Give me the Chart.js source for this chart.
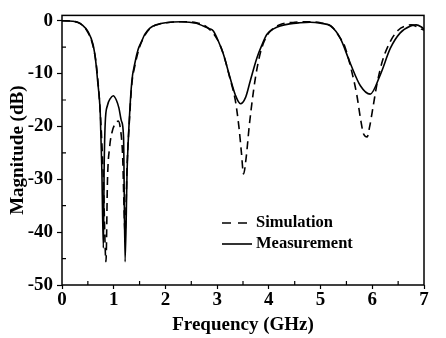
<!DOCTYPE html>
<html>
<head>
<meta charset="utf-8">
<style>
html,body{margin:0;padding:0;background:#fff;}
#wrap{width:446px;height:338px;}
</style>
<script src="https://cdn.jsdelivr.net/npm/chart.js@4.4.0/dist/chart.umd.min.js"></script>
</head>
<body>
<div id="wrap"><canvas id="c" width="446" height="338"></canvas></div>
<script>
// Frequency (GHz) and magnitude (dB)
const simFreq = [0,0.3,0.5,0.6,0.66,0.7,0.75,0.8,0.85,0.88,0.92,0.97,1.03,1.09,1.13,1.17,1.22,1.26,1.3,1.35,1.41,1.5,1.6,1.7,1.85,2.0,2.3,2.6,2.8,3.0,3.12,3.25,3.35,3.42,3.47,3.51,3.56,3.62,3.68,3.74,3.83,3.91,4.0,4.2,4.5,4.8,5.0,5.2,5.38,5.48,5.6,5.7,5.78,5.83,5.9,5.95,6.02,6.09,6.2,6.35,6.5,6.64,6.75,6.85,6.95,7.0];
const simDb   = [0,-0.3,-2.2,-4.8,-8,-12,-19,-30,-45.6,-30,-24,-21,-19.5,-19,-20.5,-25,-40,-27,-19.5,-12,-8.5,-5,-2.8,-1.5,-0.7,-0.4,-0.2,-0.4,-1.2,-3.5,-6.3,-11,-15,-20,-25,-29,-26,-20,-15,-10.8,-6.3,-3.9,-2.3,-0.8,-0.3,-0.2,-0.4,-1,-3.3,-5.2,-9.5,-14,-19,-21.4,-22,-20,-16,-12,-7.5,-3.9,-1.8,-1,-0.8,-1.1,-1.6,-1.8];
const measFreq = [0,0.2,0.3,0.4,0.5,0.6,0.65,0.69,0.74,0.77,0.8,0.815,0.835,0.88,0.93,0.99,1.05,1.1,1.15,1.19,1.22,1.26,1.3,1.35,1.41,1.47,1.54,1.6,1.7,1.85,2.0,2.3,2.6,2.73,2.85,2.93,3.02,3.12,3.25,3.35,3.45,3.55,3.64,3.77,3.87,3.96,4.1,4.22,4.4,4.6,4.8,5.0,5.19,5.38,5.58,5.77,5.96,6.16,6.35,6.54,6.74,6.85,6.95,7.0];
const measDb   = [0,-0.1,-0.3,-0.9,-2.0,-4.5,-7.5,-11.5,-17.6,-28,-43,-28,-19.5,-16,-14.8,-14.2,-15,-16.5,-19,-22,-45.6,-28,-19,-11.5,-8,-5.5,-3.9,-2.6,-1.4,-0.7,-0.4,-0.2,-0.5,-1,-1.5,-2,-3.8,-6.3,-10.8,-14,-15.7,-14.5,-11.4,-7,-4.5,-2.6,-1.5,-1,-0.6,-0.4,-0.3,-0.5,-1,-3.3,-8.2,-12.3,-13.9,-10.1,-5.2,-2.3,-1,-0.8,-1.2,-1.6];
const seriesNames = ['Simulation','Measurement'];
const xTicks = [0,1,2,3,4,5,6,7];
const yTicks = [0,-10,-20,-30,-40,-50];
const xTickLabels = ['0','1','2','3','4','5','6','7'];
const yTickLabels = ['0','-10','-20','-30','-40','-50'];
const xTitle = 'Frequency (GHz)';
const yTitle = 'Magnitude (dB)';

const toPts = (xs, ys) => xs.map((x, i) => ({x: x, y: ys[i]}));
const FONT = 'Liberation Serif, Times New Roman, serif';

const decor = {
  id: 'decor',
  afterDatasetsDraw(chart) {
    const ctx = chart.ctx, a = chart.chartArea;
    const xs = chart.scales.x, ys = chart.scales.y;
    ctx.save();
    ctx.strokeStyle = '#000';
    ctx.lineWidth = 1.5;
    ctx.strokeRect(a.left, a.top, a.right - a.left, a.bottom - a.top);
    // minor ticks inside
    ctx.lineWidth = 1.2;
    ctx.beginPath();
    for (let v = 0.5; v < 7; v += 1) {
      const px = xs.getPixelForValue(v);
      ctx.moveTo(px, a.bottom); ctx.lineTo(px, a.bottom - 4);
    }
    for (let v = -45; v < 0; v += 10) {
      const py = ys.getPixelForValue(v);
      ctx.moveTo(a.left, py); ctx.lineTo(a.left + 4, py);
    }
    ctx.stroke();
    // legend
    const ds = chart.data.datasets;
    const rows = [{y: 223, dash: [9, 7]}, {y: 244, dash: []}];
    ctx.font = 'bold 16.5px ' + FONT;
    ctx.textBaseline = 'middle';
    ctx.fillStyle = '#000';
    ds.forEach((d, i) => {
      ctx.beginPath();
      ctx.lineWidth = 1.6;
      ctx.setLineDash(rows[i].dash);
      ctx.moveTo(222, rows[i].y); ctx.lineTo(252, rows[i].y);
      ctx.stroke();
      ctx.setLineDash([]);
      ctx.fillText(d.label, 256, rows[i].y);
    });
    ctx.restore();
  }
};

new Chart(document.getElementById('c'), {
  type: 'line',
  data: {
    datasets: [
      {label: seriesNames[0], data: toPts(simFreq, simDb), borderColor: '#000', borderWidth: 1.6, borderDash: [8, 5], pointRadius: 0, fill: false, tension: 0.4, cubicInterpolationMode: 'monotone'},
      {label: seriesNames[1], data: toPts(measFreq, measDb), borderColor: '#000', borderWidth: 1.6, pointRadius: 0, fill: false, tension: 0.4, cubicInterpolationMode: 'monotone'}
    ]
  },
  options: {
    responsive: false,
    animation: false,
    devicePixelRatio: 1,
    layout: {padding: {top: 14, right: 22, left: 0, bottom: 0}},
    plugins: {legend: {display: false}, tooltip: {enabled: false}},
    scales: {
      x: {
        type: 'linear', min: 0, max: 7,
        afterBuildTicks: s => { s.ticks = xTicks.map(v => ({value: v})); },
        afterFit: s => { s.height = 53; },
        ticks: {color: '#000', font: {family: FONT, size: 19, weight: 'bold'}, padding: 0, maxRotation: 0,
          callback: (v) => xTickLabels[xTicks.indexOf(v)]},
        grid: {drawOnChartArea: false, color: '#000', tickLength: 4, tickWidth: 1.2},
        border: {display: false},
        title: {display: true, text: xTitle, color: '#000', font: {family: FONT, size: 19, weight: 'bold'}, padding: {top: 0, bottom: 2}}
      },
      y: {
        type: 'linear', min: -50, max: 1,
        afterBuildTicks: s => { s.ticks = yTicks.map(v => ({value: v})); },
        afterFit: s => { s.width = 62; },
        ticks: {color: '#000', font: {family: FONT, size: 19, weight: 'bold'}, padding: 4,
          callback: (v) => yTickLabels[yTicks.indexOf(v)]},
        grid: {drawOnChartArea: false, color: '#000', tickLength: 5, tickWidth: 1.2},
        border: {display: false},
        title: {display: true, text: yTitle, color: '#000', font: {family: FONT, size: 19, weight: 'bold'}, padding: {top: 7, bottom: 0}}
      }
    }
  },
  plugins: [decor]
});
</script>
</body>
</html>
